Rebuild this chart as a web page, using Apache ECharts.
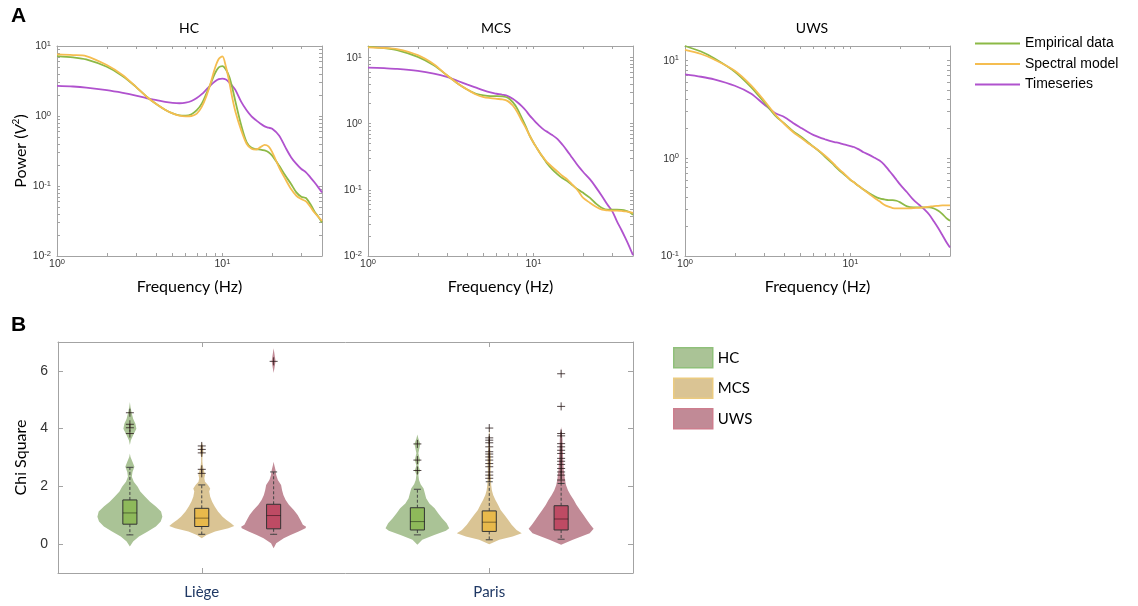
<!DOCTYPE html>
<html><head><meta charset="utf-8">
<script src="https://cdn.jsdelivr.net/npm/echarts@6/dist/echarts.min.js"></script>
<style>html,body{margin:0;padding:0;background:#fff}#c{width:1138px;height:606px}</style>
</head><body><div id="c"></div>
<script>
// ---------- Panel A data: frequency (Hz) and power (V^2) ----------
const freqs = [1, 1.25, 1.5, 2, 2.5, 3, 3.5, 4, 4.5, 5, 5.5, 6, 6.5, 7, 7.5, 8, 8.5, 9, 9.5, 10, 10.5, 11, 11.5, 12, 13, 14, 15, 16, 17, 18, 19, 20, 22, 24, 26, 28, 30, 32, 34, 36, 38, 40];

const hcEmpirical = [7.19, 6.88, 6.44, 5.05, 3.71, 2.61, 1.87, 1.47, 1.23, 1.09, 1.02, 1.01, 1.06, 1.21, 1.50, 2.09, 2.91, 4.05, 4.94, 5.16, 4.62, 3.63, 2.47, 1.59, 0.734, 0.424, 0.351, 0.336, 0.332, 0.322, 0.304, 0.272, 0.196, 0.141, 0.107, 0.081, 0.0703, 0.0673, 0.0552, 0.0433, 0.0363, 0.0301];
const hcSpectral = [7.59, 7.43, 7.19, 5.34, 3.83, 2.61, 1.87, 1.47, 1.23, 1.09, 1.01, 0.99, 1.00, 1.08, 1.35, 1.92, 2.98, 4.78, 6.5, 7.1, 5.05, 3.08, 1.77, 1.14, 0.622, 0.401, 0.340, 0.332, 0.359, 0.388, 0.367, 0.304, 0.185, 0.126, 0.0905, 0.0726, 0.065, 0.0602, 0.0505, 0.0418, 0.0363, 0.0318];
const hcTimeseries = [2.70, 2.64, 2.55, 2.34, 2.14, 1.96, 1.79, 1.68, 1.59, 1.54, 1.52, 1.55, 1.64, 1.81, 2.05, 2.39, 2.76, 3.11, 3.36, 3.43, 3.32, 3.01, 2.67, 2.34, 1.59, 1.21, 0.99, 0.867, 0.776, 0.711, 0.68, 0.658, 0.528, 0.359, 0.258, 0.207, 0.175, 0.157, 0.133, 0.113, 0.0957, 0.081];

const mcsEmpirical = [14.5, 13.9, 12.9, 10.2, 7.64, 5.38, 4.02, 3.26, 2.83, 2.67, 2.61, 2.61, 2.58, 2.46, 2.11, 1.67, 1.22, 0.90, 0.656, 0.52, 0.426, 0.353, 0.30, 0.258, 0.204, 0.171, 0.149, 0.1355, 0.1206, 0.107, 0.0977, 0.090, 0.0755, 0.0612, 0.0532, 0.0502, 0.0502, 0.0502, 0.0496, 0.0485, 0.0462, 0.0421];
const mcsSpectral = [14.2, 13.9, 13.4, 10.85, 7.91, 5.38, 4.02, 3.26, 2.76, 2.52, 2.43, 2.37, 2.32, 2.19, 1.88, 1.49, 1.11, 0.859, 0.656, 0.52, 0.426, 0.353, 0.307, 0.267, 0.221, 0.188, 0.1615, 0.1437, 0.1234, 0.107, 0.090, 0.0755, 0.0634, 0.055, 0.0502, 0.049, 0.0485, 0.0485, 0.0479, 0.0473, 0.0462, 0.0447];
const mcsTimeseries = [7.04, 6.88, 6.72, 6.26, 5.70, 5.08, 4.41, 3.88, 3.49, 3.18, 2.96, 2.83, 2.73, 2.61, 2.37, 2.11, 1.84, 1.58, 1.32, 1.15, 1.01, 0.90, 0.82, 0.764, 0.672, 0.584, 0.479, 0.388, 0.314, 0.258, 0.216, 0.186, 0.1437, 0.107, 0.080, 0.0598, 0.0473, 0.0333, 0.0249, 0.0186, 0.0139, 0.0103];

const uwsEmpirical = [14.0, 12.3, 10.5, 7.65, 5.36, 3.76, 2.74, 2.25, 1.89, 1.67, 1.46, 1.30, 1.17, 1.04, 0.932, 0.841, 0.759, 0.701, 0.648, 0.599, 0.567, 0.532, 0.504, 0.477, 0.437, 0.407, 0.388, 0.379, 0.373, 0.373, 0.367, 0.353, 0.321, 0.314, 0.314, 0.314, 0.314, 0.306, 0.290, 0.268, 0.244, 0.229];
const uwsSpectral = [12.8, 11.6, 10.2, 7.83, 5.58, 3.91, 2.81, 2.22, 1.85, 1.62, 1.44, 1.30, 1.18, 1.065, 0.961, 0.861, 0.777, 0.713, 0.653, 0.604, 0.567, 0.532, 0.504, 0.477, 0.430, 0.391, 0.362, 0.334, 0.319, 0.309, 0.306, 0.306, 0.306, 0.309, 0.311, 0.314, 0.319, 0.324, 0.326, 0.329, 0.329, 0.329];
const uwsTimeseries = [7.18, 6.79, 6.38, 5.49, 4.58, 3.56, 2.90, 2.62, 2.29, 2.05, 1.86, 1.72, 1.63, 1.56, 1.50, 1.46, 1.43, 1.39, 1.36, 1.33, 1.30, 1.25, 1.20, 1.15, 1.08, 1.01, 0.946, 0.861, 0.759, 0.674, 0.599, 0.536, 0.448, 0.376, 0.334, 0.299, 0.264, 0.225, 0.192, 0.163, 0.139, 0.122];

const lineNames = ['Empirical data', 'Spectral model', 'Timeseries'];
const panelTitles = ['HC', 'MCS', 'UWS'];

// ---------- Panel B data: Chi Square violins ----------
const sites = ['Liège', 'Paris'];
const groups = ['HC', 'MCS', 'UWS'];
// density profiles [chi square value, relative density]
const densHCLiege = [[-0.08,0],[0.09,0.10],[0.26,0.28],[0.44,0.55],[0.61,0.80],[0.78,0.95],[0.95,1.0],[1.13,0.96],[1.30,0.80],[1.47,0.62],[1.64,0.47],[1.82,0.32],[1.99,0.24],[2.16,0.12],[2.33,0.06],[2.50,0.08],[2.68,0.14],[2.85,0.08],[3.02,0.02],[3.14,0],[3.43,0],[3.60,0.03],[3.77,0.10],[4.0,0.20],[4.17,0.17],[4.34,0.10],[4.52,0.06],[4.75,0.02],[4.92,0]];
const densMCSLiege = [[0.2,0],[0.32,0.15],[0.44,0.41],[0.55,0.82],[0.63,1.0],[0.72,0.90],[0.84,0.75],[0.95,0.64],[1.13,0.50],[1.30,0.40],[1.47,0.32],[1.64,0.26],[1.82,0.23],[1.93,0.26],[2.05,0.19],[2.16,0.10],[2.28,0.08],[2.39,0.10],[2.50,0.08],[2.62,0.05],[2.74,0.03],[2.85,0.02],[3.02,0.02],[3.20,0.05],[3.37,0.04],[3.54,0]];
const densUWSLiege = [[-0.14,0],[0.03,0.08],[0.20,0.31],[0.32,0.52],[0.44,0.77],[0.55,0.98],[0.60,1.0],[0.67,0.90],[0.84,0.82],[1.01,0.74],[1.18,0.62],[1.36,0.47],[1.53,0.37],[1.70,0.30],[1.87,0.26],[2.05,0.23],[2.22,0.13],[2.39,0.08],[2.56,0.06],[2.74,0.02],[2.85,0],[5.93,0],[6.33,0.06],[6.78,0]];
const densHCParis = [[-0.02,0],[0.15,0.15],[0.32,0.52],[0.46,0.88],[0.55,0.98],[0.72,0.90],[0.90,0.76],[1.07,0.64],[1.24,0.53],[1.41,0.37],[1.59,0.27],[1.76,0.23],[1.93,0.19],[2.07,0.10],[2.22,0.05],[2.40,0.03],[2.55,0.08],[2.72,0.03],[2.91,0.08],[3.15,0.03],[3.47,0.09],[3.66,0.03],[3.80,0]];
const densMCSParis = [[0,0],[0.15,0.31],[0.26,0.72],[0.38,1.0],[0.49,0.84],[0.67,0.69],[0.84,0.58],[1.01,0.47],[1.18,0.35],[1.36,0.27],[1.53,0.19],[1.70,0.12],[1.87,0.08],[2.05,0.06],[2.28,0.05],[2.50,0.04],[2.74,0.05],[3.02,0.05],[3.31,0.03],[3.66,0.02],[4.06,0]];
const densUWSParis = [[-0.02,0],[0.15,0.36],[0.26,0.62],[0.38,0.88],[0.53,1.0],[0.67,0.90],[0.84,0.79],[1.01,0.69],[1.18,0.58],[1.36,0.47],[1.53,0.39],[1.70,0.29],[1.87,0.21],[2.05,0.15],[2.22,0.12],[2.39,0.10],[2.56,0.08],[2.79,0.07],[3.02,0.06],[3.31,0.05],[3.66,0.04],[3.89,0.02],[4.06,0]];
// box stats per site: [q1, median, q3, whisker low, whisker high]
const boxHC = [[0.69, 1.08, 1.53, 0.32, 2.66], [0.49, 0.78, 1.26, 0.32, 1.90]];
const boxMCS = [[0.61, 0.90, 1.24, 0.34, 2.05], [0.44, 0.76, 1.15, 0.15, 2.16]];
const boxUWS = [[0.53, 0.99, 1.38, 0.34, 2.50], [0.49, 0.87, 1.33, 0.17, 2.10]];
// outliers per site
const outHC = [[3.83, 4.03, 4.15, 4.55], [2.55, 2.91, 3.47]];
const outMCS = [[2.45, 2.59, 3.16, 3.28, 3.40], [2.28, 2.39, 2.5, 2.68, 2.79, 2.91, 3.02, 3.12, 3.2, 3.37, 3.51, 3.6, 3.68, 4.02]];
const outUWS = [[6.33], [2.22, 2.39, 2.5, 2.62, 2.76, 2.87, 2.97, 3.14, 3.25, 3.37, 3.48, 3.75, 3.83, 4.77, 5.9]];
const chiTicks = [0, 2, 4, 6];

// ---------- styling ----------
const lineColors = ['#8CB946', '#F5BD50', '#B052CE'];
const violinFill = ['#AAC396', '#DAC494', '#C18A96'];
const violinBorder = ['#8FC07A', '#EBCB80', '#CD7E8E'];
const boxFill = ['#8EB95A', '#E8B94B', '#BE4B64'];
const axisGrey = '#a3a3a3';
const labelGrey = '#333';

const panelData = [
  [hcEmpirical, hcSpectral, hcTimeseries],
  [mcsEmpirical, mcsSpectral, mcsTimeseries],
  [uwsEmpirical, uwsSpectral, uwsTimeseries]
];
const panelLayout = [
  {left: 57, yMin: 0.01, yMax: 10, titleX: 189},
  {left: 368, yMin: 0.01, yMax: 14.9, titleX: 496},
  {left: 685, yMin: 0.1, yMax: 14, titleX: 812}
];

function logTicks(min, max) {
  const out = [];
  for (let e = -3; e <= 2; e++) {
    for (let m = 1; m < 10; m++) {
      const v = +(m * Math.pow(10, e)).toPrecision(3);
      if (v >= min * 0.999 && v <= max * 1.001) out.push(v);
    }
  }
  return out;
}
function decades(min, max) {
  const out = [];
  for (let e = -3; e <= 2; e++) {
    const v = +Math.pow(10, e).toPrecision(3);
    if (v >= min * 0.999 && v <= max * 1.001) out.push(v);
  }
  return out;
}
const supRich = {
  b: {fontFamily: 'Liberation Sans', fontSize: 10.5, color: labelGrey, lineHeight: 12, verticalAlign: 'bottom'},
  s: {fontFamily: 'Liberation Sans', fontSize: 7.5, color: labelGrey, lineHeight: 12, verticalAlign: 'top'}
};
const supFmt = v => '{b|10}{s|' + Math.round(Math.log10(v)) + '}';

const grid = [], xAxis = [], yAxis = [], series = [];
const title = [
  {text: 'A', left: 11, top: 6, padding: 0, textStyle: {fontFamily: 'Liberation Sans', fontWeight: 'bold', fontSize: 21, color: '#000'}},
  {text: 'B', left: 11, top: 315, padding: 0, textStyle: {fontFamily: 'Liberation Sans', fontWeight: 'bold', fontSize: 21, color: '#000'}}
];

panelLayout.forEach((p, i) => {
  grid.push({left: p.left, top: 46, width: 265, height: 210});
  title.push({text: panelTitles[i], left: p.titleX, top: 21, padding: 0, textAlign: 'center',
    textStyle: {fontFamily: 'Lato', fontWeight: 'normal', fontSize: 14, color: '#000'}});
  const xTicks = logTicks(1, 40);
  const yTicks = logTicks(p.yMin, p.yMax);
  const common = {type: 'log', logBase: 10, gridIndex: i, splitLine: {show: false}, minorTick: {show: false},
    axisLine: {show: true, onZero: false, lineStyle: {color: axisGrey, width: 1}}};
  xAxis.push(Object.assign({}, common, {
    min: 1, max: 40, position: 'bottom',
    name: 'Frequency (Hz)', nameLocation: 'middle', nameGap: 23,
    nameTextStyle: {fontFamily: 'Lato', fontSize: 16, color: '#000'},
    axisTick: {show: true, inside: true, length: 3, customValues: xTicks, lineStyle: {color: axisGrey}},
    axisLabel: {show: true, customValues: decades(1, 40), formatter: supFmt, rich: supRich, margin: 2}
  }));
  xAxis.push(Object.assign({}, common, {
    min: 1, max: 40, position: 'top',
    axisTick: {show: true, inside: true, length: 3, customValues: xTicks, lineStyle: {color: axisGrey}},
    axisLabel: {show: false}
  }));
  const yName = i === 0 ? {
    name: '{t|Power (}{i|V}{s|2}{t|)}', nameLocation: 'middle', nameGap: 27,
    nameTextStyle: {rich: {
      t: {fontFamily: 'Lato', fontSize: 16, color: '#000', lineHeight: 18, verticalAlign: 'bottom'},
      i: {fontFamily: 'Lato', fontStyle: 'italic', fontSize: 16, color: '#000', lineHeight: 18, verticalAlign: 'bottom'},
      s: {fontFamily: 'Lato', fontSize: 10, color: '#000', lineHeight: 18, verticalAlign: 'top'}
    }}
  } : {};
  yAxis.push(Object.assign({}, common, yName, {
    min: p.yMin, max: p.yMax, position: 'left',
    axisTick: {show: true, inside: true, length: 3, customValues: yTicks, lineStyle: {color: axisGrey}},
    axisLabel: {show: true, customValues: decades(p.yMin, p.yMax), formatter: supFmt, rich: supRich, margin: 6}
  }));
  yAxis.push(Object.assign({}, common, {
    min: p.yMin, max: p.yMax, position: 'right',
    axisTick: {show: true, inside: true, length: 3, customValues: yTicks, lineStyle: {color: axisGrey}},
    axisLabel: {show: false}
  }));
  panelData[i].forEach((vals, k) => {
    series.push({
      type: 'line', name: lineNames[k], xAxisIndex: 2 * i, yAxisIndex: 2 * i,
      data: freqs.map((f, j) => [f, vals[j]]),
      showSymbol: false, symbol: 'none', smooth: 0.3, z: 3 + (k === 2 ? 0 : 1),
      color: lineColors[k],
      lineStyle: {color: lineColors[k], width: 1.8},
      itemStyle: {color: lineColors[k]}
    });
  });
});

// ---------- Panel B ----------
grid.push({left: 58, top: 342, width: 575, height: 231});
const catCommon = {type: 'category', gridIndex: 3, data: sites, boundaryGap: true,
  axisLine: {show: true, onZero: false, lineStyle: {color: axisGrey}},
  axisTick: {show: true, inside: true, length: 5, alignWithLabel: true, lineStyle: {color: axisGrey}},
  splitLine: {show: false}};
xAxis.push(Object.assign({}, catCommon, {position: 'bottom',
  axisLabel: {show: true, margin: 12, fontFamily: 'Lato', fontSize: 15, color: '#1F3864'}}));
xAxis.push(Object.assign({}, catCommon, {position: 'top', axisLabel: {show: false}}));
const valCommon = {type: 'value', gridIndex: 3, min: -1, max: 7, splitLine: {show: false},
  axisLine: {show: true, onZero: false, lineStyle: {color: axisGrey}},
  axisTick: {show: true, inside: true, length: 5, customValues: chiTicks, lineStyle: {color: axisGrey}}};
yAxis.push(Object.assign({}, valCommon, {position: 'left',
  name: 'Chi Square', nameLocation: 'middle', nameGap: 18,
  nameTextStyle: {fontFamily: 'Lato', fontSize: 16, color: '#000'},
  axisLabel: {show: true, customValues: chiTicks, margin: 10, fontFamily: 'Liberation Sans', fontSize: 14, color: labelGrey}}));
yAxis.push(Object.assign({}, valCommon, {position: 'right', axisLabel: {show: false}}));

const groupOffsets = [-0.25, 0, 0.25];
const violinHalfWidth = 0.113;
const boxHalfWidth = 0.0245;
const densities = [[densHCLiege, densHCParis], [densMCSLiege, densMCSParis], [densUWSLiege, densUWSParis]];
const boxes = [boxHC, boxMCS, boxUWS];
const outliers = [outHC, outMCS, outUWS];

groups.forEach((g, gi) => {
  series.push({
    type: 'custom', name: g, xAxisIndex: 6, yAxisIndex: 6,
    data: boxes[gi].map((b, ci) => [ci, b[1]]),
    encode: {x: 0, y: 1},
    color: violinFill[gi],
    itemStyle: {color: violinFill[gi]},
    renderItem: function (params, api) {
      const ci = api.value(0);
      const band = api.size([1, 0])[0];
      const cx = api.coord([ci, 0])[0] + groupOffsets[gi] * band;
      const hw = violinHalfWidth * band;
      const bw = boxHalfWidth * band;
      const py = v => api.coord([ci, v])[1];
      const dens = densities[gi][ci];
      const right = dens.map(p => [cx + p[1] * hw, py(p[0])]);
      const left = dens.slice().reverse().map(p => [cx - p[1] * hw, py(p[0])]);
      const st = boxes[gi][ci];
      const children = [];
      children.push({type: 'polygon', shape: {points: right.concat(left)}, style: {fill: violinFill[gi]}});
      const dash = {stroke: '#444', lineWidth: 1, lineDash: [3, 2]};
      children.push({type: 'line', shape: {x1: cx, y1: py(st[2]), x2: cx, y2: py(st[4])}, style: dash});
      children.push({type: 'line', shape: {x1: cx, y1: py(st[0]), x2: cx, y2: py(st[3])}, style: dash});
      const capW = 3.5;
      [st[3], st[4]].forEach(v => children.push({type: 'line',
        shape: {x1: cx - capW, y1: py(v), x2: cx + capW, y2: py(v)}, style: {stroke: '#444', lineWidth: 1}}));
      children.push({type: 'rect', shape: {x: cx - bw, y: py(st[2]), width: 2 * bw, height: py(st[0]) - py(st[2])},
        style: {fill: boxFill[gi], stroke: '#333', lineWidth: 1}});
      children.push({type: 'line', shape: {x1: cx - bw, y1: py(st[1]), x2: cx + bw, y2: py(st[1])},
        style: {stroke: 'rgba(0,0,0,0.45)', lineWidth: 1}});
      const pl = 4;
      outliers[gi][ci].forEach(v => {
        const y = py(v);
        children.push({type: 'line', shape: {x1: cx - pl, y1: y, x2: cx + pl, y2: y}, style: {stroke: 'rgba(40,25,25,0.8)', lineWidth: 1}});
        children.push({type: 'line', shape: {x1: cx, y1: y - pl, x2: cx, y2: y + pl}, style: {stroke: 'rgba(40,25,25,0.8)', lineWidth: 1}});
      });
      return {type: 'group', children};
    }
  });
});

const option = {
  animation: false,
  backgroundColor: '#fff',
  title,
  grid, xAxis, yAxis, series,
  legend: [
    {left: 975, top: 36, padding: 0, orient: 'vertical', icon: 'rect', itemWidth: 45, itemHeight: 2, itemGap: 5.5,
      selectedMode: false,
      textStyle: {fontFamily: 'Liberation Sans', fontSize: 14, color: '#000', lineHeight: 15},
      data: lineNames},
    {left: 673, top: 347, padding: 0, orient: 'vertical', icon: 'rect', itemWidth: 39, itemHeight: 20, itemGap: 9,
      selectedMode: false,
      textStyle: {fontFamily: 'Lato', fontSize: 15, color: '#000', lineHeight: 20},
      data: groups.map((g, gi) => ({name: g, itemStyle: {color: violinFill[gi], borderColor: violinBorder[gi], borderWidth: 1.5}}))}
  ]
};
const chart = echarts.init(document.getElementById('c'), null, {renderer: 'canvas'});
chart.setOption(option);
</script>
</body></html>
